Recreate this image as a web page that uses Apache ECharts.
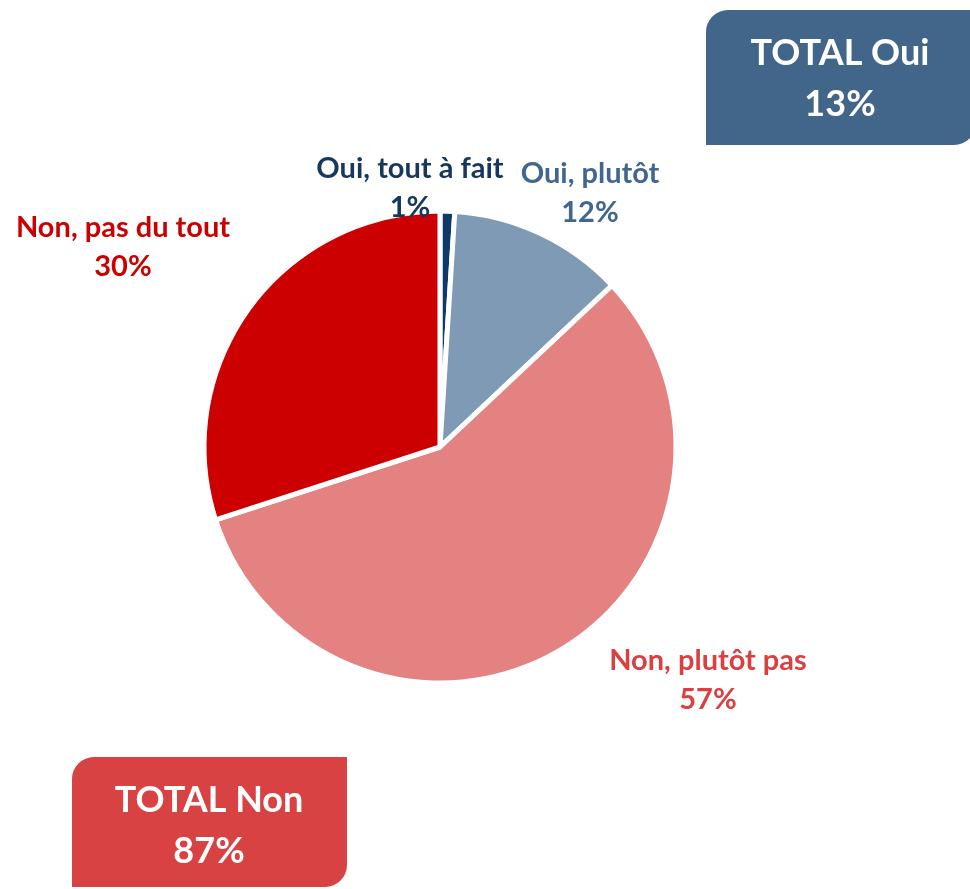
<!DOCTYPE html>
<html>
<head>
<meta charset="utf-8">
<script src="https://cdn.jsdelivr.net/npm/echarts@6/dist/echarts.min.js"></script>
<style>
html, body { margin: 0; padding: 0; background: #fff; }
#main { width: 970px; height: 889px; }
</style>
</head>
<body>
<div id="main"></div>
<script>
// données
var categories = ['Oui, tout à fait', 'Oui, plutôt', 'Non, plutôt pas', 'Non, pas du tout'];
var values = [1, 12, 57, 30];
var sliceColors = ['#0E3A6A', '#7F9AB4', '#E48282', '#CC0000'];
var labelColors = ['#17375E', '#41668F', '#DA4040', '#CC0000'];
var totalLabels = ['TOTAL Oui', 'TOTAL Non'];
var totalValues = [13, 87];

var font = 'Lato, "Open Sans", sans-serif';
var myChart = echarts.init(document.getElementById('main'));

// position des étiquettes (centre du texte), même ordre que categories
var labelPos = [[410, 188], [590, 193], [708, 680], [123, 247]];

var pieData = [];
for (var i = 0; i < categories.length; i++) {
	pieData.push({
		name: categories[i],
		value: values[i],
		itemStyle: { color: sliceColors[i] },
		label: { color: labelColors[i] }
	});
}

var option = {
	animation: false,
	series: [{
		type: 'pie',
		center: [440, 447],
		radius: 236,
		startAngle: 90,
		clockwise: true,
		itemStyle: { borderColor: '#fff', borderWidth: 5 },
		label: {
			show: true,
			position: 'outside',
			formatter: '{b}\n{c}%',
			fontFamily: font,
			fontWeight: 'bold',
			fontSize: 29,
			lineHeight: 39,
			align: 'center',
			overflow: 'none'
		},
		labelLine: { show: false },
		labelLayout: function (params) {
			var p = labelPos[params.dataIndex];
			return { x: p[0], y: p[1], align: 'center', verticalAlign: 'middle' };
		},
		data: pieData
	}],
	graphic: [
		{
			type: 'rect',
			shape: { x: 706, y: 10, width: 270, height: 135, r: [22, 0, 22, 0] },
			style: { fill: '#41668A' }
		},
		{
			type: 'text',
			x: 840, y: 79,
			style: {
				text: totalLabels[0] + '\n' + totalValues[0] + '%',
				fill: '#fff',
				font: 'bold 36px ' + font,
				lineHeight: 51,
				align: 'center',
				verticalAlign: 'middle'
			}
		},
		{
			type: 'rect',
			shape: { x: 72, y: 757, width: 275, height: 130, r: [22, 0, 22, 0] },
			style: { fill: '#D94242' }
		},
		{
			type: 'text',
			x: 209, y: 826,
			style: {
				text: totalLabels[1] + '\n' + totalValues[1] + '%',
				fill: '#fff',
				font: 'bold 36px ' + font,
				lineHeight: 51,
				align: 'center',
				verticalAlign: 'middle'
			}
		}
	]
};
myChart.setOption(option);
</script>
</body>
</html>
